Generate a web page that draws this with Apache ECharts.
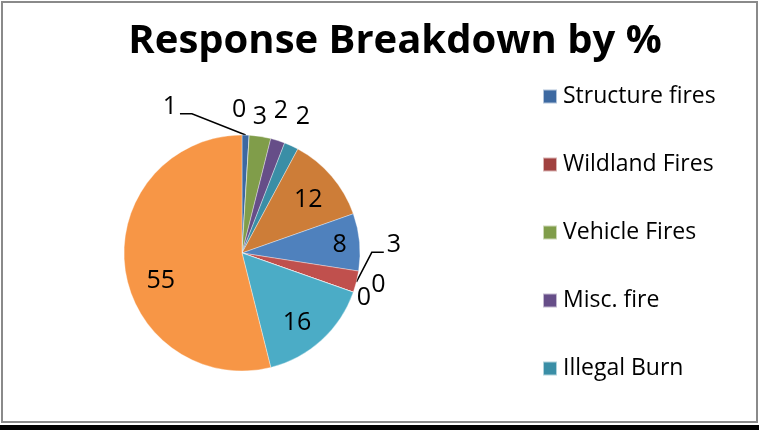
<!DOCTYPE html>
<html>
<head>
<meta charset="utf-8">
<script src="https://cdn.jsdelivr.net/npm/echarts@6/dist/echarts.min.js"></script>
<style>
  html, body { margin: 0; padding: 0; background: #fff; }
  #chart { width: 759px; height: 430px; }
</style>
</head>
<body>
<div id="chart"></div>
<script>
// Response categories, in drawing order (clockwise from 12 o'clock)
const categories = [
  'Structure fires', 'Wildland Fires', 'Vehicle Fires', 'Misc. fire', 'Illegal Burn',
  'Category 6', 'Category 7', 'Category 8', 'Category 9', 'Category 10',
  'Category 11', 'Category 12'
];
// Share of responses, %
const shares = [1, 0, 3, 2, 2, 12, 8, 3, 0, 0, 16, 55];
// Slice colours
const sliceColors = [
  '#3D69A1', '#A0413F', '#809D4A', '#664E88', '#3A8EA6', '#CD7D38',
  '#4F81BD', '#C0504D', '#9BBB59', '#8064A2', '#4BACC6', '#F79646'
];
// Legend shows the first five categories only
const legendItems = categories.slice(0, 5);

// Pie geometry
const CX = 242, CY = 253, R = 118;
// Label placement: [distance from centre in px, angle shift from slice middle in degrees]
const labelSpots = [
  [163, -28], [143, -4.7], [137, -1.3], [147, -2.3], [149, -0.6], [85, 1.8],
  [98, 0.6], [152, -17], [140, -6.2], [130, 0.8], [89, 4.1], [86, -12]
];
// Items whose label is joined to the slice by a leader line
const leaderItems = [0, 7];

const FONT = 'Open Sans';

const total = shares.reduce((a, b) => a + b, 0);
const midAngles = [];
{
  let acc = 0;
  shares.forEach(v => {
    midAngles.push((acc + v / 2) / total * 360);
    acc += v;
  });
}
function polar(dist, deg) {
  const t = deg * Math.PI / 180;
  return [CX + dist * Math.sin(t), CY - dist * Math.cos(t)];
}

const chart = echarts.init(document.getElementById('chart'), null, { renderer: 'canvas' });

const data = shares.map((v, i) => ({
  name: categories[i],
  value: v,
  itemStyle: { color: sliceColors[i] },
  labelLine: { show: leaderItems.indexOf(i) >= 0 }
}));

chart.setOption({
  backgroundColor: '#fff',
  animation: false,
  title: {
    text: 'Response Breakdown by %',
    left: 390,
    top: 17,
    textAlign: 'center',
    textStyle: { fontFamily: FONT, fontWeight: 'bold', fontSize: 40, color: '#000' }
  },
  legend: {
    data: legendItems,
    orient: 'vertical',
    left: 537,
    top: 80,
    itemWidth: 14,
    itemHeight: 14,
    itemGap: 45,
    icon: 'rect',
    textStyle: { fontFamily: FONT, fontSize: 23, lineHeight: 20, color: '#000', padding: [0, 0, 0, 1] },
    selectedMode: false
  },
  graphic: [
    {
      type: 'rect', silent: true,
      shape: { x: 2, y: 2, width: 755, height: 420 },
      style: { fill: 'none', stroke: '#8a8a8a', lineWidth: 2 }
    },
    {
      type: 'rect', silent: true,
      shape: { x: 0, y: 425, width: 759, height: 5 },
      style: { fill: '#000' }
    }
  ],
  series: [{
    type: 'pie',
    center: [CX, CY],
    radius: R,
    startAngle: 90,
    clockwise: true,
    avoidLabelOverlap: false,
    minShowLabelAngle: -1,
    stillShowZeroSum: true,
    itemStyle: { borderColor: 'rgba(255,255,255,0.6)', borderWidth: 0.6 },
    emphasis: { disabled: true },
    label: {
      show: true,
      position: 'outside',
      formatter: '{c}',
      fontFamily: FONT,
      fontSize: 25,
      color: '#000'
    },
    labelLine: { show: false, lineStyle: { color: '#000', width: 1.5 } },
    labelLayout: function (params) {
      const i = params.dataIndex;
      const spot = labelSpots[i];
      const p = polar(spot[0], midAngles[i] + spot[1]);
      const out = { x: p[0], y: p[1], align: 'center', verticalAlign: 'middle' };
      if (leaderItems.indexOf(i) >= 0) {
        const edge = polar(R, midAngles[i]);
        const side = p[0] < edge[0] ? 1 : -1;
        out.labelLinePoints = [
          [p[0] + side * 10, p[1] + 7],
          [p[0] + side * 22, p[1] + 7],
          edge
        ];
      }
      return out;
    },
    data: data
  }]
});
</script>
</body>
</html>
